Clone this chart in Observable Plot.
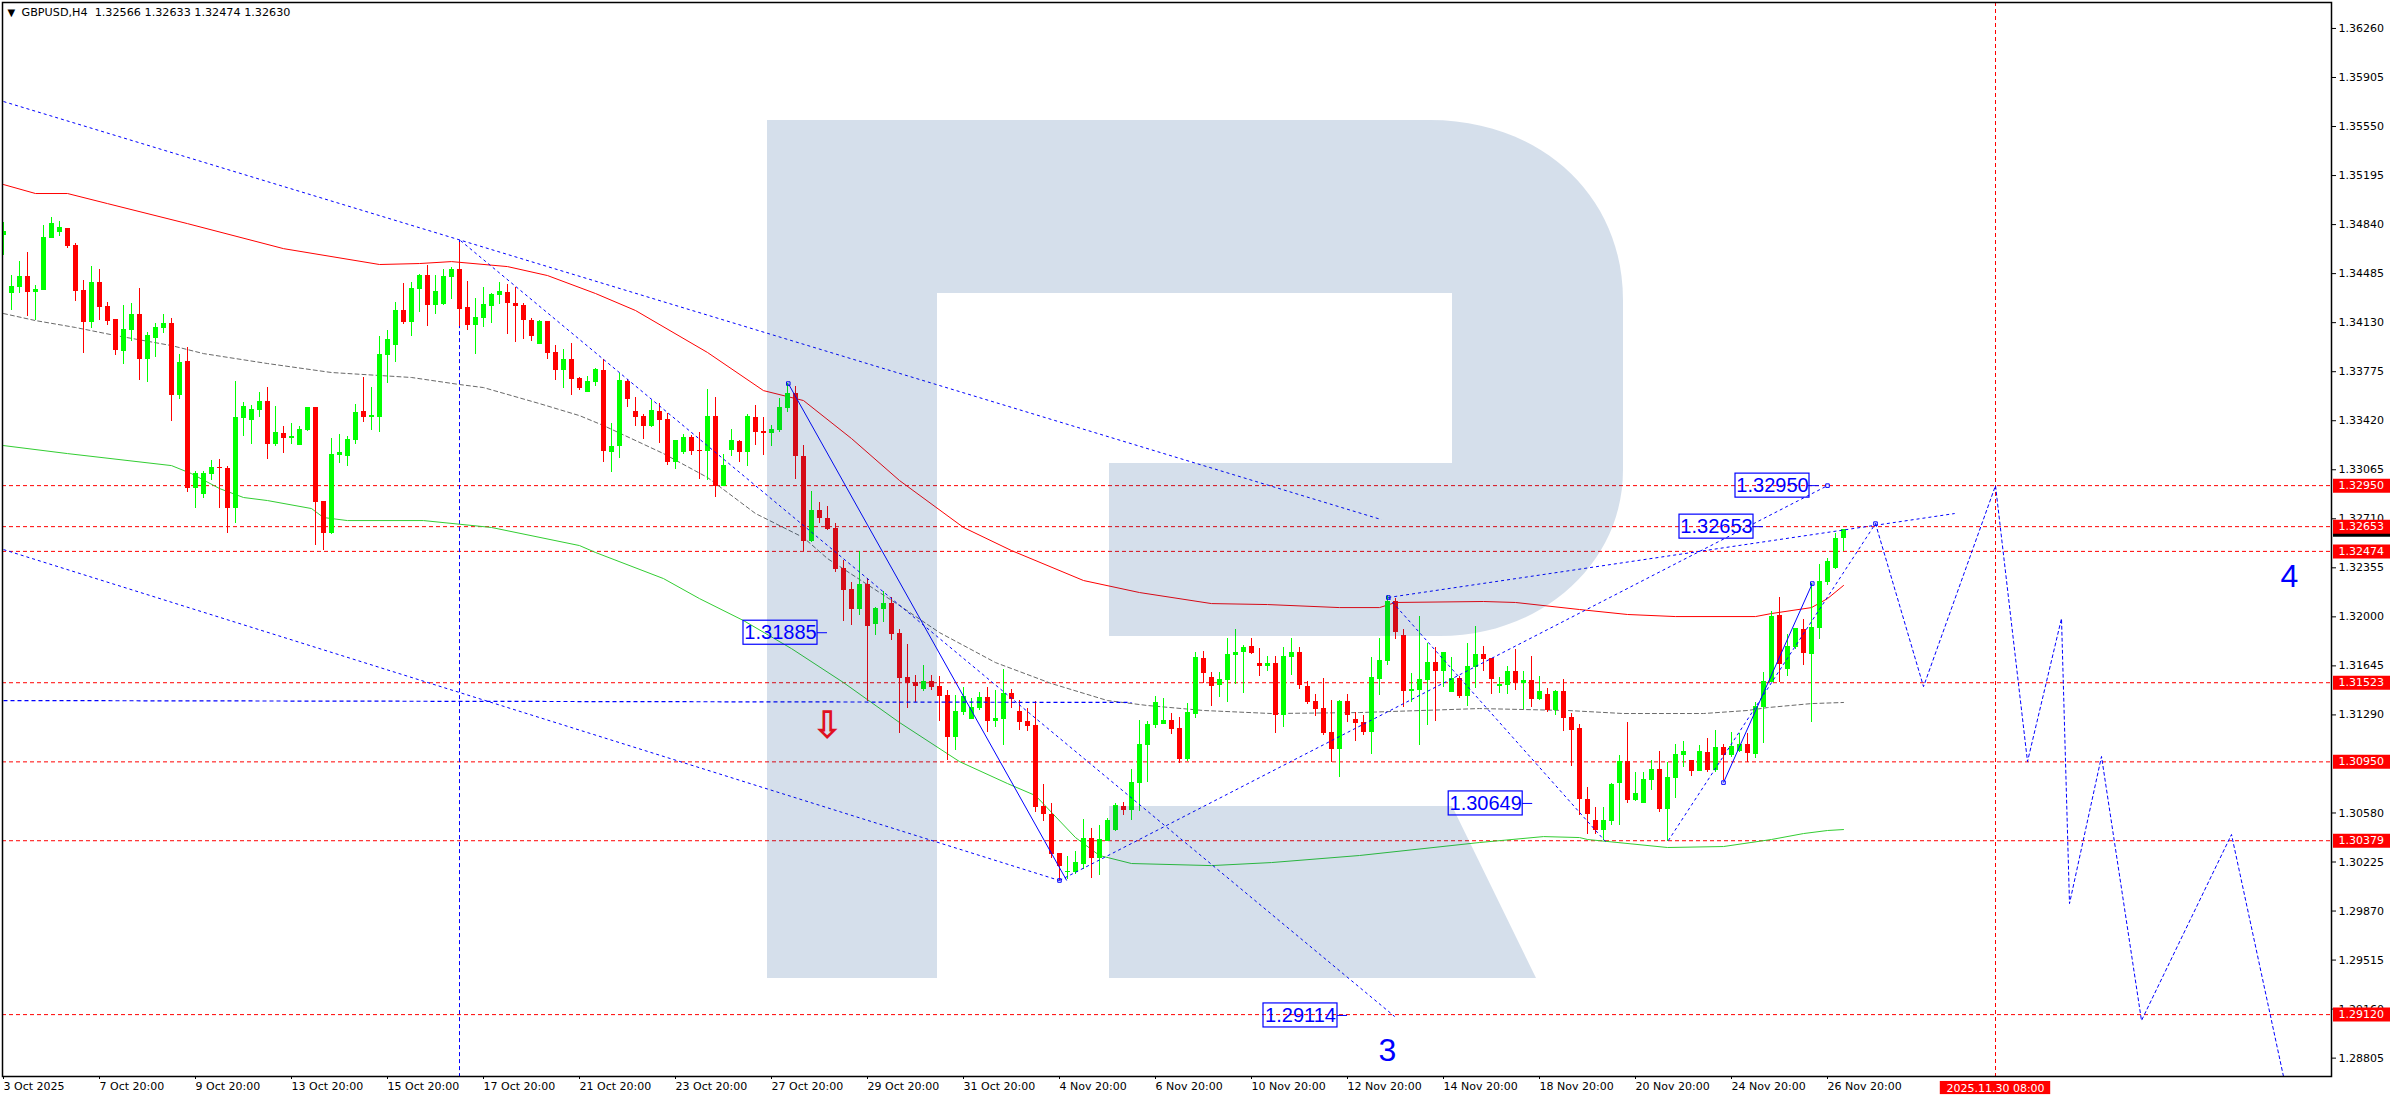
<!DOCTYPE html>
<html><head><meta charset="utf-8">
<script src="https://cdn.jsdelivr.net/npm/d3@7"></script>
<script src="https://cdn.jsdelivr.net/npm/@observablehq/plot@0.6"></script>
<style>html,body{margin:0;padding:0;background:#fff;overflow:hidden}svg{display:block}</style>
</head><body><div id="chart"></div>
<script>
// OHLC of every H4 bar, price x 100000
const opens=[134761,134341,134384,134464,134348,134362,134739,134782,134811,134688,
134362,134131,134420,134247,134152,133921,134073,134189,133863,134015,
134087,134123,133602,133848,132929,132885,133030,133081,133074,132784,
133436,133421,133494,133559,133247,133327,133291,133240,133349,133515,
132835,132603,133168,133161,133276,133486,133443,133443,133892,133964,
134218,134131,134370,134471,134254,134261,134457,134514,134239,134109,
134160,134247,134326,134348,134268,134254,134145,133971,134138,133914,
133783,133863,133725,133624,133696,133783,133190,133233,133704,133486,
133450,133378,133486,133428,133117,133190,133298,133204,133197,133450,
132943,133204,133269,133190,133443,133342,133327,133349,133508,133617,
133161,132545,132770,132712,132639,132350,132198,132053,132234,131944,
132053,132096,131879,131561,131524,131474,131532,131495,131430,131126,
131307,131256,131336,131416,131242,131256,131445,131314,131242,131213,
130627,130569,130286,130149,130149,130207,130395,130250,130373,130453,
130627,130598,130793,131068,131213,131220,131249,131191,130967,131293,
131698,131561,131503,131539,131720,131742,131785,131662,131640,131662,
131285,131705,131742,131495,131387,131336,131162,131039,131387,131256,
131235,131162,131546,131676,132111,131865,131459,131466,131539,131669,
131604,131452,131553,131423,131633,131727,131698,131495,131503,131604,
131517,131539,131401,131437,131322,131459,131271,131191,130677,130525,
130453,130518,130793,130952,130670,130648,130815,130894,130605,130829,
130996,130960,130880,131018,130887,131054,130996,131025,131075,131003,
131343,131524,132009,131618,131778,131908,131727,131915,132248,132350,132566];
const highs=[134855,134471,134572,134638,134399,134833,134891,134862,134811,134703,
134435,134536,134514,134276,134152,134254,134268,134377,134058,134123,
134189,134160,133899,133950,133052,133052,133132,133139,133088,133704,
133552,133530,133624,133660,133523,133378,133399,133378,133515,133515,
132835,133291,133320,133305,133537,133733,133660,134029,134073,134276,
134413,134420,134478,134543,134471,134514,134529,134710,134428,134304,
134384,134341,134420,134406,134384,134268,134160,134145,134138,133964,
133935,133979,133733,133740,133798,133863,133399,133761,133718,133588,
133465,133566,133544,133472,133276,133320,133313,133334,133646,133588,
133175,133356,133276,133465,133530,133443,133385,133580,133689,133667,
133240,132907,132828,132799,132675,132408,132248,132473,132277,132067,
132183,132140,131908,131799,131575,131647,131575,131568,131466,131430,
131488,131408,131452,131488,131466,131618,131474,131394,131336,131387,
130786,130648,130286,130265,130301,130532,130467,130489,130540,130648,
130656,130894,131249,131242,131423,131408,131300,131271,131372,131742,
131749,131597,131597,131843,131908,131792,131843,131770,131713,131713,
131778,131843,131778,131532,131437,131553,131394,131394,131437,131307,
131285,131705,131843,132154,132132,131908,131589,132002,131807,131778,
131742,131705,131568,131807,131930,131785,131698,131561,131640,131763,
131604,131713,131568,131481,131466,131546,131300,131220,130764,130619,
130619,130793,130996,131235,130873,130873,130960,131025,130945,131075,
131097,130960,131068,131119,131177,131075,131162,131155,131155,131380,
131597,132038,132140,131872,131915,131980,132241,132379,132422,132603,132633];
const lows=[134616,134218,134341,134174,134145,134362,134739,134753,134666,134283,
133906,134087,134145,134109,133892,133827,133993,133711,133696,133877,
134051,133414,133573,132900,132784,132856,132987,132784,132603,132675,
133305,133247,133443,133139,133233,133182,133247,133240,133342,132516,
132480,132596,133110,133088,133247,133407,133349,133334,133689,133841,
134116,134029,134203,134102,134189,134254,134297,134102,134073,133899,
134095,134123,134261,134044,133986,134008,133993,133971,133863,133711,
133653,133602,133638,133624,133667,133117,133045,133146,133515,133378,
133284,133371,133255,133095,133066,133175,133168,132994,132987,132864,
132943,133161,133117,133088,133240,133168,133233,133334,133479,132994,
132473,132538,132675,132625,132321,131966,131937,132009,131387,131865,
131959,131828,131155,131336,131380,131459,131466,131242,130960,131032,
131285,131256,131322,131162,131199,131068,131336,131177,131170,130583,
130518,130250,130091,130098,130134,130170,130105,130127,130373,130446,
130561,130525,130590,130800,131191,131220,131148,130938,130952,131264,
131517,131351,131416,131380,131510,131445,131727,131568,131604,131155,
131199,131575,131474,131365,131278,131141,130945,130837,131235,131097,
131141,131003,131430,131647,131836,131343,131380,131068,131213,131242,
131488,131452,131408,131351,131481,131604,131437,131445,131437,131466,
131329,131343,131394,131307,131285,131170,130916,130561,130424,130424,
130380,130489,130489,130648,130663,130648,130742,130583,130373,130684,
130909,130844,130880,130873,130873,130815,130981,131018,130945,130974,
131083,131524,131524,131568,131763,131647,131235,131836,132227,132342,132474];
const closes=[134790,134391,134464,134348,134370,134746,134847,134819,134681,134355,
134131,134420,134239,134138,133928,134080,134189,133863,134037,134095,
134123,133602,133841,132929,133037,133037,133081,133074,132784,133443,
133523,133501,133559,133247,133334,133291,133305,133356,133515,132828,
132603,133175,133190,133284,133479,133443,133457,133899,134008,134218,
134131,134377,134471,134254,134355,134464,134514,134225,134109,134167,
134261,134333,134355,134268,134247,134145,134029,134138,133906,133783,
133863,133718,133653,133704,133790,133197,133233,133711,133573,133443,
133378,133494,133421,133117,133276,133298,133197,133197,133450,132943,
133095,133276,133190,133450,133334,133327,133356,133515,133617,133161,
132545,132770,132712,132632,132342,132190,132053,132234,131930,132060,
132096,131872,131553,131517,131495,131532,131488,131423,131126,131314,
131423,131343,131416,131242,131264,131445,131401,131235,131206,130619,
130569,130279,130192,130156,130221,130395,130250,130388,130525,130634,
130598,130800,131075,131220,131380,131249,131184,130967,131307,131705,
131589,131495,131546,131727,131742,131778,131734,131640,131662,131285,
131713,131742,131503,131380,131329,131155,131039,131387,131285,131227,
131162,131561,131684,132111,131886,131459,131474,131546,131669,131604,
131742,131553,131423,131640,131727,131691,131546,131510,131604,131517,
131539,131401,131459,131322,131459,131264,131177,130677,130569,130453,
130525,130786,130952,130670,130721,130822,130894,130605,130837,131003,
131025,130880,131025,130887,131054,130996,131061,131075,131010,131351,
131532,132002,131655,131785,131915,131734,131923,132256,132400,132567,132630];

// moving averages: [bar index, price x 100000]
const maRed=[[0,135130],[4,135065],[8,135065],[13,134992],[23,134847],[35,134666],[47,134551],[52,134558],[56,134572],[63,134536],[68,134471],[74,134341],[79,134218],[88,133914],[95,133638],[100,133566],[106,133291],[112,132987],[120,132647],[126,132480],[135,132263],[142,132176],[151,132096],[158,132089],[167,132067],[172,132067],[174,132104],[185,132111],[189,132104],[197,132053],[203,132017],[209,132002],[219,132002],[221,132024],[226,132067],[228,132132],[230,132227]];
const maGreen=[[0,133240],[8,133182],[21,133095],[23.5,133037],[27,132929],[30,132864],[33,132842],[38.5,132784],[40,132719],[43,132697],[52.5,132697],[61,132647],[72,132516],[74,132466],[82.5,132277],[87,132132],[92.5,131973],[98.5,131770],[105,131524],[112,131235],[119.5,130952],[125.5,130793],[129,130706],[134,130402],[137,130272],[141,130214],[151,130199],[158.5,130221],[169.5,130272],[184.5,130366],[192.5,130409],[197,130402],[198,130388],[208,130330],[215,130337],[221,130388],[225,130431],[228,130453],[230,130460]];
const maGray=[[0,134196],[4,134145],[9,134095],[14,134037],[21,133964],[25,133906],[33,133834],[41,133769],[51,133733],[57,133682],[60,133660],[67,133544],[72,133457],[75,133385],[82.5,133182],[88,133009],[94,132748],[100,132574],[103,132422],[112,132082],[117,131886],[124,131669],[131,131517],[138,131394],[143,131358],[150,131322],[158.5,131300],[169.5,131307],[184.5,131336],[195.5,131322],[202.5,131300],[212.5,131300],[218,131322],[220.5,131343],[226,131372],[230,131380]];

// wave analysis trend lines: [bar1, price1, bar2, price2]
const dottedLines=[[0,135731,172.25,132704],[0,132487,132,130091],[57.125,134724,173.9,129106],[132,130091,228,132950],[173.1,132140,243.9,132748],[173.1,132140,200.25,130373],[208.1,130380,234,132675]];
const heavyLines=[[0,131394,141,131380]];
const solidLines=[[98.1,133689,132.9,130091],[215,130800,226.1,132241]];
const forecast=[[234,132675],[240,131495],[249,132950],[253,130952],[257.25,131988],[258.25,129924],[262.25,130989],[267.25,129077],[278.5,130424],[285,128672]];
const nodes=[[215,130800],[226.1,132241],[173.1,132140],[234,132675],[228,132950],[98.1,133689],[132,130091]];

const levels=[1.3295,1.32653,1.32474,1.31523,1.3095,1.30379,1.2912];
const yTicks=[1.3626,1.35905,1.3555,1.35195,1.3484,1.34485,1.3413,1.33775,1.3342,1.33065,1.3271,1.32355,1.32,1.31645,1.3129,1.3058,1.30225,1.2987,1.29515,1.2916,1.28805];
const xTickBars=[0,12,24,36,48,60,72,84,96,108,120,132,144,156,168,180,192,204,216,228];
const xTickLabels=["3 Oct 2025","7 Oct 20:00","9 Oct 20:00","13 Oct 20:00","15 Oct 20:00","17 Oct 20:00","21 Oct 20:00","23 Oct 20:00","27 Oct 20:00","29 Oct 20:00","31 Oct 20:00","4 Nov 20:00","6 Nov 20:00","10 Nov 20:00","12 Nov 20:00","14 Nov 20:00","18 Nov 20:00","20 Nov 20:00","24 Nov 20:00","26 Nov 20:00"];
const callouts=[{t:"1.32950",bar:225.75,p:1.3295},{t:"1.32653",bar:218.75,p:1.32653},{t:"1.31885",bar:101.75,p:1.31885},{t:"1.30649",bar:189.9,p:1.30649},{t:"1.29114",bar:166.75,p:1.29114}];
const waves=[{t:"3",bar:173,p:1.2886},{t:"4",bar:285.75,p:1.32292}];
const headerText="GBPUSD,H4\u00a0\u00a01.32566 1.32633 1.32474 1.32630";
const timeLabel="2025.11.30 08:00", timeBar=249, currentPrice=1.3263, arrowBar=103, arrowPrice=1.31213, pivotBar=57, pivotPrice=1.34724;

const P=v=>v/1e5;
const bars=opens.map((o,i)=>({i,o:P(o),h:P(highs[i]),l:P(lows[i]),c:P(closes[i])}));
const up=bars.filter(d=>d.c>=d.o), dn=bars.filter(d=>d.c<d.o);
const pts=a=>a.map(([i,v])=>({i,p:P(v)}));
const segs=a=>a.map(([x1,p1,x2,p2])=>({x1,y1:P(p1),x2,y2:P(p2)}));
const FONT="'DejaVu Sans',sans-serif", LF="'Liberation Sans',Arial,sans-serif";
const BLUE="#0000ff", RED="#ff0000";
const yDom=[1.28672,1.36448];
const gx1=291.25, gx2=298.375, boxW=9.25, boxH=0.00087;

function watermark(){
  const g=document.createElementNS("http://www.w3.org/2000/svg","path");
  g.setAttribute("d","M767,120 H1430 C1540,120 1623,195 1623,300 V470 C1623,565 1540,636 1440,636 H1109 V463 H1452 V293 H937 V978 H767 Z M1109,806 H1452 L1536,978 H1109 Z");
  g.setAttribute("fill","rgb(8,67,137)");
  g.setAttribute("fill-opacity","0.17");
  return g;
}

const chart=Plot.plot({
  width:2390,height:1100,marginLeft:2,marginRight:59,marginTop:2,marginBottom:24,
  style:{background:"#fff",overflow:"visible",fontFamily:FONT},
  x:{domain:[-0.125,291],axis:null},
  y:{domain:yDom,axis:null},
  marks:[
    Plot.ruleY(levels,{stroke:RED,strokeWidth:1,strokeDasharray:"4 3"}),
    Plot.ruleX([timeBar],{stroke:RED,strokeWidth:1,strokeDasharray:"4 3"}),
    Plot.ruleX([pivotBar],{y1:pivotPrice,y2:yDom[0],stroke:BLUE,strokeWidth:1,strokeDasharray:"4 3"}),
    Plot.line(pts(maRed),{x:"i",y:"p",stroke:"#ff0000",strokeWidth:1}),
    Plot.line(pts(maGreen),{x:"i",y:"p",stroke:"#32cd32",strokeWidth:1}),
    Plot.line(pts(maGray),{x:"i",y:"p",stroke:"#696969",strokeWidth:1,strokeDasharray:"4 3"}),
    Plot.ruleX(up,{x:"i",y1:"l",y2:"h",stroke:"#00ff00",strokeWidth:1,clip:true,shapeRendering:"crispEdges"}),
    Plot.ruleX(dn,{x:"i",y1:"l",y2:"h",stroke:"#ff0000",strokeWidth:1,clip:true,shapeRendering:"crispEdges"}),
    Plot.ruleX(up,{x:"i",y1:"o",y2:"c",stroke:"#00ff00",strokeWidth:5,clip:true,shapeRendering:"crispEdges"}),
    Plot.ruleX(dn,{x:"i",y1:"o",y2:"c",stroke:"#ff0000",strokeWidth:5,clip:true,shapeRendering:"crispEdges"}),
    Plot.link(segs(dottedLines),{x1:"x1",y1:"y1",x2:"x2",y2:"y2",stroke:BLUE,strokeWidth:1,strokeDasharray:"3 3"}),
    Plot.link(segs(heavyLines),{x1:"x1",y1:"y1",x2:"x2",y2:"y2",stroke:BLUE,strokeWidth:1.2,strokeDasharray:"4 3"}),
    Plot.link(segs(solidLines),{x1:"x1",y1:"y1",x2:"x2",y2:"y2",stroke:BLUE,strokeWidth:1}),
    Plot.line(pts(forecast),{x:"i",y:"p",stroke:BLUE,strokeWidth:1,strokeDasharray:"3 3",clip:true}),
    Plot.dot(pts(nodes),{x:"i",y:"p",symbol:"square",r:2,stroke:BLUE,strokeWidth:1,fill:"none"}),
    watermark,
    Plot.text([{t:"\u21e9"}],{x:()=>arrowBar,y:()=>arrowPrice,text:"t",fontSize:38,fontFamily:FONT,fill:"#e01020",fontWeight:"bold"}),
    Plot.rect(callouts,{x1:d=>d.bar-boxW,x2:"bar",y1:d=>d.p-boxH,y2:d=>d.p+boxH,fill:"none",stroke:BLUE,strokeWidth:1.2}),
    Plot.ruleY(callouts,{x1:"bar",x2:d=>d.bar+1.25,y:"p",stroke:BLUE,strokeWidth:1}),
    Plot.text(callouts,{x:d=>d.bar-boxW/2,y:"p",text:"t",fontSize:20,fontFamily:LF,fill:BLUE}),
    Plot.text(waves,{x:"bar",y:"p",text:"t",fontSize:32,fontFamily:LF,fill:BLUE}),
    Plot.frame({stroke:"#000",strokeWidth:1.5}),
    Plot.axisY({anchor:"right",ticks:yTicks,tickFormat:d=>d.toFixed(5),tickSize:4,tickPadding:3,fontSize:11,fontFamily:FONT,fill:"#000",stroke:"#000",label:null}),
    Plot.axisX({anchor:"bottom",ticks:xTickBars,tickFormat:d=>xTickLabels[xTickBars.indexOf(d)],tickSize:3,tickPadding:3,fontSize:11,fontFamily:FONT,textAnchor:"start",fill:"#000",stroke:"#000",label:null}),
    Plot.ruleY([currentPrice],{x1:gx1,x2:gx2,stroke:"#000",strokeWidth:14}),
    Plot.ruleY(levels,{x1:gx1,x2:gx2,stroke:RED,strokeWidth:14}),
    Plot.text(levels,{x:()=>gx1+0.62,y:d=>d,text:d=>d.toFixed(5),textAnchor:"start",fontSize:11,fontFamily:FONT,fill:"#fff"}),
    Plot.rect([{}],{x1:()=>242.1,x2:()=>255.9,y1:()=>1.28636,y2:()=>1.28541,fill:RED}),
    Plot.text([timeLabel],{x:()=>timeBar,y:()=>1.28588,text:d=>d,fontSize:11,fontFamily:FONT,fill:"#fff"}),
    Plot.text(["\u25bc"],{frameAnchor:"top-left",dx:5,dy:6,text:d=>d,fontSize:10,fontFamily:FONT,fill:"#000"}),
    Plot.text([headerText],{frameAnchor:"top-left",dx:19,dy:6,text:d=>d,fontSize:11.2,fontFamily:FONT,fill:"#000"})
  ]
});
document.getElementById("chart").appendChild(chart);
</script></body></html>
